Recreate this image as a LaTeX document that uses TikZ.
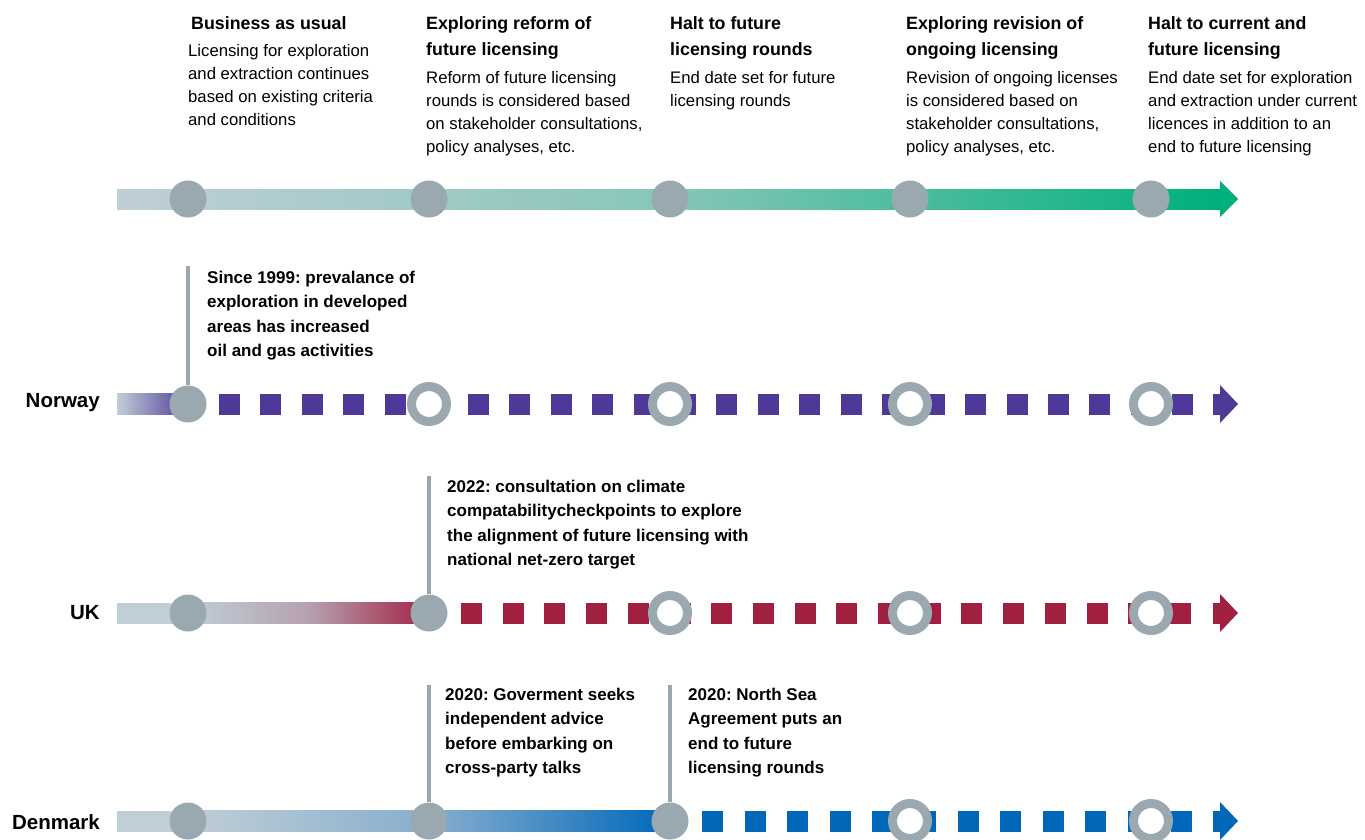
\documentclass[tikz,border=0pt]{standalone}
\usepackage{fontspec}
\setmainfont{Liberation Sans}
\frenchspacing
\definecolor{barlight}{RGB}{192,206,214}
\definecolor{cgrey}{RGB}{154,168,175}
\definecolor{tealend}{RGB}{0,176,124}
\definecolor{npurple}{RGB}{79,57,152}
\definecolor{ukred}{RGB}{160,32,64}
\definecolor{dkblue}{RGB}{0,103,185}
\newcommand{\tblock}[1]{\parbox[t]{420pt}{#1}}
\tikzset{
  milestone/.style={circle, fill=cgrey, minimum size=37pt, inner sep=0pt},
  ring/.style={circle, draw=cgrey, line width=9pt, fill=white, minimum size=35pt, inner sep=0pt},
  conn/.style={draw=cgrey, line width=4pt},
  head/.style={anchor=base west, inner sep=0pt, font=\fontsize{17.8}{26}\selectfont\bfseries},
  body/.style={anchor=base west, inner sep=0pt, font=\fontsize{16.7}{23}\selectfont},
  annot/.style={anchor=base west, inner sep=0pt, font=\fontsize{17}{24.6}\selectfont\bfseries},
  country/.style={anchor=base east, inner sep=0pt, font=\fontsize{20.5}{24}\selectfont\bfseries},
  dashline/.style={line width=21pt},
  endarrow/.pic={\fill (-7,-10.5) rectangle (1,10.5); \fill (0,-19) -- (18,0) -- (0,19) -- cycle;}
}
\begin{document}
\begin{tikzpicture}[x=1pt,y=-1pt]
\useasboundingbox (0,0) rectangle (1365,839);
\fill[white] (0,0) rectangle (1365,839);

% ---------- top scale ----------
\fill[left color=barlight, right color=tealend, middle color={rgb,255:red,135;green,198;blue,186}] (117,189) rectangle (1221,209);
\fill[tealend] (1220,181) -- (1238,199) -- (1220,217) -- cycle;
\node[milestone] (t1) at (188,199) {};
\node[milestone] (t2) at (429,199) {};
\node[milestone] (t3) at (670,199) {};
\node[milestone] (t4) at (910,199) {};
\node[milestone] (t5) at (1151,199) {};

\node[head] (h1) at (191,29) {\tblock{Business as usual}};
\node[body] (b1) at (188,56) {\tblock{Licensing for exploration\\and extraction continues\\based on existing criteria\\and conditions}};
\node[head] (h2) at (426,29) {\tblock{Exploring reform of\\future licensing}};
\node[body] (b2) at (426,83) {\tblock{Reform of future licensing\\rounds is considered based\\on stakeholder consultations,\\policy analyses, etc.}};
\node[head] (h3) at (670,29) {\tblock{Halt to future\\licensing rounds}};
\node[body] (b3) at (670,83) {\tblock{End date set for future\\licensing rounds}};
\node[head] (h4) at (906,29) {\tblock{Exploring revision of\\ongoing licensing}};
\node[body] (b4) at (906,83) {\tblock{Revision of ongoing licenses\\is considered based on\\stakeholder consultations,\\policy analyses, etc.}};
\node[head] (h5) at (1148,29) {\tblock{Halt to current and\\future licensing}};
\node[body] (b5) at (1148,83) {\tblock{End date set for exploration\\and extraction under current\\licences in addition to an\\end to future licensing}};

% ---------- Norway ----------
\fill[left color=barlight, right color=npurple] (117,393.5) rectangle (190,414.5);
\coordinate (nds) at (219,404);
\coordinate (nde) at (1193,404);
\draw[npurple, dashline, dash pattern=on 21pt off 20.45pt] (nds) -- (nde);
\pic[color=npurple] at (1220,404) {endarrow};
\coordinate (ntop) at (188,266);
\node[milestone] (n1) at (188,404) {};
\draw[conn] (ntop) -- (n1.north);
\node[ring] (n2) at (429,404) {};
\node[ring] (n3) at (670,404) {};
\node[ring] (n4) at (910,404) {};
\node[ring] (n5) at (1151,404) {};
\node[country] (lno) at (100,407) {Norway};
\node[annot] (ano) at (207,283) {\tblock{Since 1999: prevalance of\\exploration in developed\\areas has increased\\oil and gas activities}};

% ---------- UK ----------
\fill[barlight] (117,602.5) rectangle (190,623.5);
\fill[left color=barlight, right color=ukred, middle color={rgb,255:red,182;green,160;blue,176}] (188,602.5) rectangle (431,623.5);
\coordinate (uds) at (461,613);
\coordinate (ude) at (1192,613);
\draw[ukred, dashline, dash pattern=on 21pt off 20.7pt] (uds) -- (ude);
\pic[color=ukred] at (1220,613) {endarrow};
\coordinate (utop) at (429,476);
\node[milestone] (u1) at (188,613) {};
\node[milestone] (u2) at (429,613) {};
\draw[conn] (utop) -- (u2.north);
\node[ring] (u3) at (670,613) {};
\node[ring] (u4) at (910,613) {};
\node[ring] (u5) at (1151,613) {};
\node[country] (luk) at (100,619) {UK};
\node[annot] (auk) at (447,492) {\tblock{2022: consultation on climate\\compatabilitycheckpoints to explore\\the alignment of future licensing with\\national net-zero target}};

% ---------- Denmark ----------
\fill[barlight] (117,810.5) rectangle (190,831.5);
\fill[left color=barlight, right color=dkblue, middle color={rgb,255:red,135;green,174;blue,206}] (188,810.5) rectangle (672,831.5);
\coordinate (dds) at (702,821);
\coordinate (dde) at (1192,821);
\draw[dkblue, dashline, dash pattern=on 21pt off 21.6pt] (dds) -- (dde);
\pic[color=dkblue] at (1220,821) {endarrow};
\coordinate (dtop1) at (429,685);
\coordinate (dtop2) at (670,685);
\node[milestone] (d1) at (188,821) {};
\node[milestone] (d2) at (429,821) {};
\node[milestone] (d3) at (670,821) {};
\draw[conn] (dtop1) -- (d2.north);
\draw[conn] (dtop2) -- (d3.north);
\node[ring] (d4) at (910,821) {};
\node[ring] (d5) at (1151,821) {};
\node[country] (ldk) at (100,829) {Denmark};
\node[annot] (adk1) at (445,700) {\tblock{2020: Goverment seeks\\independent advice\\before embarking on\\cross-party talks}};
\node[annot] (adk2) at (688,700) {\tblock{2020: North Sea\\Agreement puts an\\end to future\\licensing rounds}};
\end{tikzpicture}
\end{document}
